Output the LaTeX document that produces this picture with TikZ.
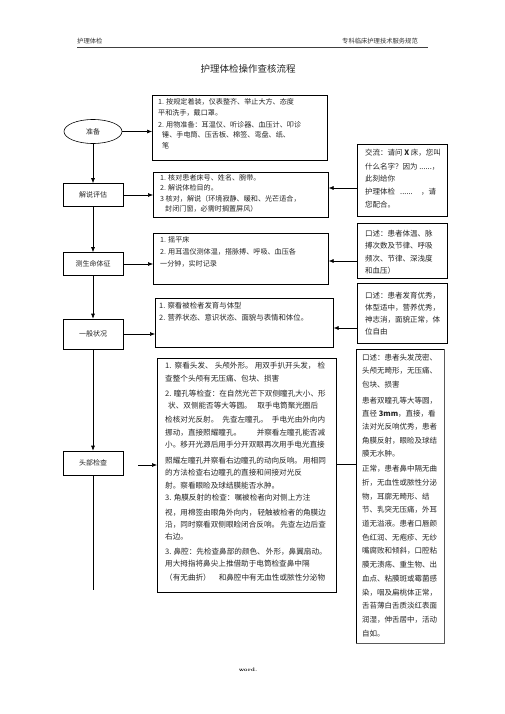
\documentclass[tikz,border=0pt]{standalone}
\usepackage{fontspec}
\newfontfamily\cjk{Noto Sans CJK SC}
\usetikzlibrary{arrows.meta,shapes.geometric}
\newcommand\mytxt[4]{\node[txt] (#1) at (#2,{#3+2.7}) {#4};}
\newcommand\jst[2]{\makebox[#1pt][s]{#2}}
\begin{document}
\begin{tikzpicture}[x=1pt,y=-1pt,
  box/.style={draw, line width=0.6pt, anchor=north west, inner sep=0pt},
  lbox/.style={draw, line width=0.6pt, minimum width=60pt, minimum height=23pt, inner sep=0pt, font=\cjk\fontsize{7}{8}\selectfont, text=black!85},
  txt/.style={anchor=base west, inner sep=0pt, text=black!85},
  sa/.style={font=\cjk\fontsize{7.1}{8}\selectfont},
  sb/.style={font=\cjk\fontsize{7.4}{8}\selectfont},
  sc/.style={font=\cjk\fontsize{7.6}{8}\selectfont},
  sr/.style={font=\cjk\fontsize{7.5}{8}\selectfont},
  arr/.style={-{Latex[length=5pt,width=4pt]}, line width=0.6pt},
  ln/.style={line width=0.6pt},
  shadowedge/.style={line width=1.3pt, black!65}]
\useasboundingbox (0,0) rectangle (505,714);
\fill[white] (0,0) rectangle (505,714);
% header
\node[anchor=base west, inner sep=0pt, font=\cjk\fontsize{6.3}{7}\selectfont, text=black!80] (hl) at (77,44) {护理体检};
\node[anchor=base east, inner sep=0pt, font=\cjk\fontsize{6.3}{7}\selectfont, text=black!80] (hr) at (418,44) {专科临床护理技术服务规范};
\coordinate (hla) at (77,47.5);
\coordinate (hlb) at (428,47.5);
\draw[line width=0.7pt, black!75] (hla) -- (hlb);
\node[font=\cjk\fontsize{9.5}{10}\selectfont, text=black!85] (title) at (248,69) {护理体检操作查核流程};
% left column
\node[draw, ellipse, line width=0.6pt, minimum width=58pt, minimum height=24pt, inner sep=0pt, font=\cjk\fontsize{7}{8}\selectfont, text=black!85] (zb) at (93,131.5) {准备};
\node[lbox] (jb) at (93,195) {解说评估};
\node[lbox] (cb) at (93,264) {测生命体征};
\node[lbox, minimum height=30pt] (yb) at (93,334) {一般状况};
\node[lbox, minimum height=24pt] (tb) at (93,463) {头部检查};
\coordinate (tend) at (93,590);
% middle boxes
\node[box, minimum width=175pt, minimum height=65pt] (b1) at (152,95) {};
\node[box, minimum width=175pt, minimum height=45pt] (b2) at (153,172) {};
\node[box, minimum width=175pt, minimum height=51pt] (b3) at (153,233) {};
\node[box, minimum width=178pt, minimum height=49pt] (b4) at (155,298) {};
\node[box, minimum width=179pt, minimum height=234pt] (b5) at (157,358) {};
% right boxes
\node[box, minimum width=90pt, minimum height=72pt] (r1) at (357,144) {};
\node[box, minimum width=90pt, minimum height=55pt] (r2) at (357,223) {};
\node[box, minimum width=90pt, minimum height=60pt] (r3) at (357,283) {};
\node[box, minimum width=88pt, minimum height=294pt] (r4) at (356,349) {};
\draw[shadowedge] (r4.north east) -- (r4.south east) -- (r4.south west);
% connectors
\draw[arr] (zb.south) -- (jb.north);
\draw[arr] (jb.south) -- (cb.north);
\draw[arr] (cb.south) -- (yb.north);
\draw[arr] (yb.south) -- (tb.north);
\draw[ln] (tb.south) -- (tend);
\draw[arr] (zb.east) -- (zb.east -| b1.west);
\draw[arr] (jb.east) -- (jb.east -| b2.west);
\draw[arr] (cb.east) -- (cb.east -| b3.west);
\draw[arr] (yb.east) -- (yb.east -| b4.west);
\coordinate (ts) at (138,465);
\draw[arr] (ts) -- (ts -| b5.west);
\coordinate (a1) at (400,188);
\coordinate (a2) at (400,261);
\coordinate (a3) at (400,328);
\coordinate (a4) at (400,464);
\draw[arr] (r1.west |- a1) -- (b2.east |- a1);
\draw[arr] (r2.west |- a2) -- (b3.east |- a2);
\draw[arr] (r3.west |- a3) -- (b4.east |- a3);
\draw[ln] (r4.west |- a4) -- (b5.east |- a4);
% box 1
\begin{scope}[every node/.append style={sa}]
\mytxt{b1a}{158}{102}{1. 按规定着装，仪表整齐、举止大方、态度}
\mytxt{b1b}{158}{113}{平和洗手，戴口罩。}
\mytxt{b1c}{158}{125}{2. 用物准备：耳温仪、听诊器、血压计、叩诊}
\mytxt{b1d}{162}{135}{锤、手电筒、压舌板、棉签、弯盘、纸、}
\mytxt{b1e}{162}{146}{笔}
% box 2
\mytxt{b2a}{160}{178}{1. 核对患者床号、姓名、腕带。}
\mytxt{b2b}{160}{188}{2. 解说体检目的。}
\mytxt{b2c}{160}{199}{3 核对，解说（环境寂静、暖和、光芒适合，}
\mytxt{b2d}{165}{209}{封闭门窗，必需时搁置屏风）}
% box 3
\mytxt{b3a}{160}{240}{1. 摇平床}
\mytxt{b3b}{160}{252}{2. 用耳温仪测体温，搭脉搏、呼吸、血压各}
\mytxt{b3c}{160}{264}{一分钟，实时记录}
\end{scope}
% box 4
\begin{scope}[every node/.append style={sb}]
\mytxt{b4a}{159}{306}{1. 察看被检者发育与体型}
\mytxt{b4b}{159}{318}{2. 营养状态、意识状态、面貌与表情和体位。}
\end{scope}
% box 5
\begin{scope}[every node/.append style={sc}]
\mytxt{b5a}{165}{366}{\jst{160}{1. 察看头发、 头颅外形。 用双手扒开头发， 检}}
\mytxt{b5b}{165}{379}{查整个头颅有无压痛、包块、损害}
\mytxt{b5c}{165}{394}{2. 瞳孔等检查：在自然光芒下双侧瞳孔大小、形}
\mytxt{b5d}{168}{406}{\jst{150}{状、双侧能否等大等圆。 取手电筒聚光圈后}}
\mytxt{b5e}{165}{420}{\jst{160}{检核对光反射。 先查左瞳孔。 手电光由外向内}}
\mytxt{b5f}{165}{433}{\jst{160}{挪动，直接照耀瞳孔。 并察看左瞳孔能否减}}
\mytxt{b5g}{165}{445}{小。移开光源后用手分开双眼再次用手电光直接}
\mytxt{b5h}{165}{461}{\jst{160}{照耀左瞳孔并察看右边瞳孔的动向反响。 用相同}}
\mytxt{b5i}{165}{473}{的方法检查右边瞳孔的直接和间接对光反}
\mytxt{b5j}{165}{486}{射。察看眼睑及球结膜能否水肿。}
\mytxt{b5k}{165}{498}{3. 角膜反射的检查：嘱被检者向对侧上方注}
\mytxt{b5l}{165}{513}{\jst{160}{视，用棉签由眼角外向内， 轻触被检者的角膜边}}
\mytxt{b5m}{165}{525}{\jst{160}{沿，同时察看双侧眼睑闭合反响。 先查左边后查}}
\mytxt{b5n}{165}{537}{右边。}
\mytxt{b5o}{165}{552}{\jst{160}{3. 鼻腔：先检查鼻部的颜色、 外形，鼻翼扇动。}}
\mytxt{b5p}{165}{564}{用大拇指将鼻尖上推借助于电筒检查鼻中隔}
\mytxt{b5q}{165}{578}{\jst{160}{（有无曲折） 和鼻腔中有无血性或脓性分泌物}}
\end{scope}
% right texts
\begin{scope}[every node/.append style={sr}]
\mytxt{r1a}{365}{153}{交流：请问 \textbf{X} 床，您叫}
\mytxt{r1b}{365}{167}{什么名字？因为 ......，}
\mytxt{r1c}{365}{179}{此刻给你}
\mytxt{r1d}{365}{192}{护理体检\ \ \ ......\ \ \ \ \ ，请}
\mytxt{r1e}{365}{205}{您配合。}
\mytxt{r2a}{365}{234}{口述：患者体温、脉}
\mytxt{r2b}{365}{246}{搏次数及节律、呼吸}
\mytxt{r2c}{365}{259}{频次、节律、深浅度}
\mytxt{r2d}{365}{271}{和血压）}
\mytxt{r3a}{365}{296}{口述：患者发育优秀，}
\mytxt{r3b}{365}{308}{体型适中，营养优秀，}
\mytxt{r3c}{365}{320}{神志消，面貌正常，体}
\mytxt{r3d}{365}{332}{位自由}
\mytxt{r4a}{362}{358}{口述：患者头发茂密、}
\mytxt{r4b}{362}{371}{头颅无畸形，无压痛、}
\mytxt{r4c}{362}{385}{包块、损害}
\mytxt{r4d}{362}{401}{患者双瞳孔等大等圆，}
\mytxt{r4e}{362}{414}{直径 \textbf{3mm}，直接，看}
\mytxt{r4f}{362}{427}{法对光反响优秀，患者}
\mytxt{r4g}{362}{441}{角膜反射，眼睑及球结}
\mytxt{r4h}{362}{454}{膜无水肿。}
\mytxt{r4i}{362}{469}{正常，患者鼻中隔无曲}
\mytxt{r4j}{362}{483}{折，无血性或脓性分泌}
\mytxt{r4k}{362}{497}{物，耳廓无畸形、结}
\mytxt{r4l}{362}{510}{节、乳突无压痛，外耳}
\mytxt{r4m}{362}{524}{道无溢液。患者口唇颜}
\mytxt{r4n}{362}{538}{色红润、无疱疹、无纱}
\mytxt{r4o}{362}{551}{嘴腐败和倾斜，口腔粘}
\mytxt{r4p}{362}{565}{膜无溃疡、重生物、出}
\mytxt{r4q}{362}{579}{血点、粘膜斑或霉菌感}
\mytxt{r4r}{362}{593}{染，咽及扁桃体正常，}
\mytxt{r4s}{362}{606}{舌苔薄白舌质淡红表面}
\mytxt{r4t}{362}{620}{润湿，伸舌居中，活动}
\mytxt{r4u}{362}{634}{自如。}
\end{scope}
\node[anchor=base, inner sep=0pt, font=\fontsize{5}{6}\selectfont\bfseries] (ft) at (248,671) {word.};
\end{tikzpicture}
\end{document}
